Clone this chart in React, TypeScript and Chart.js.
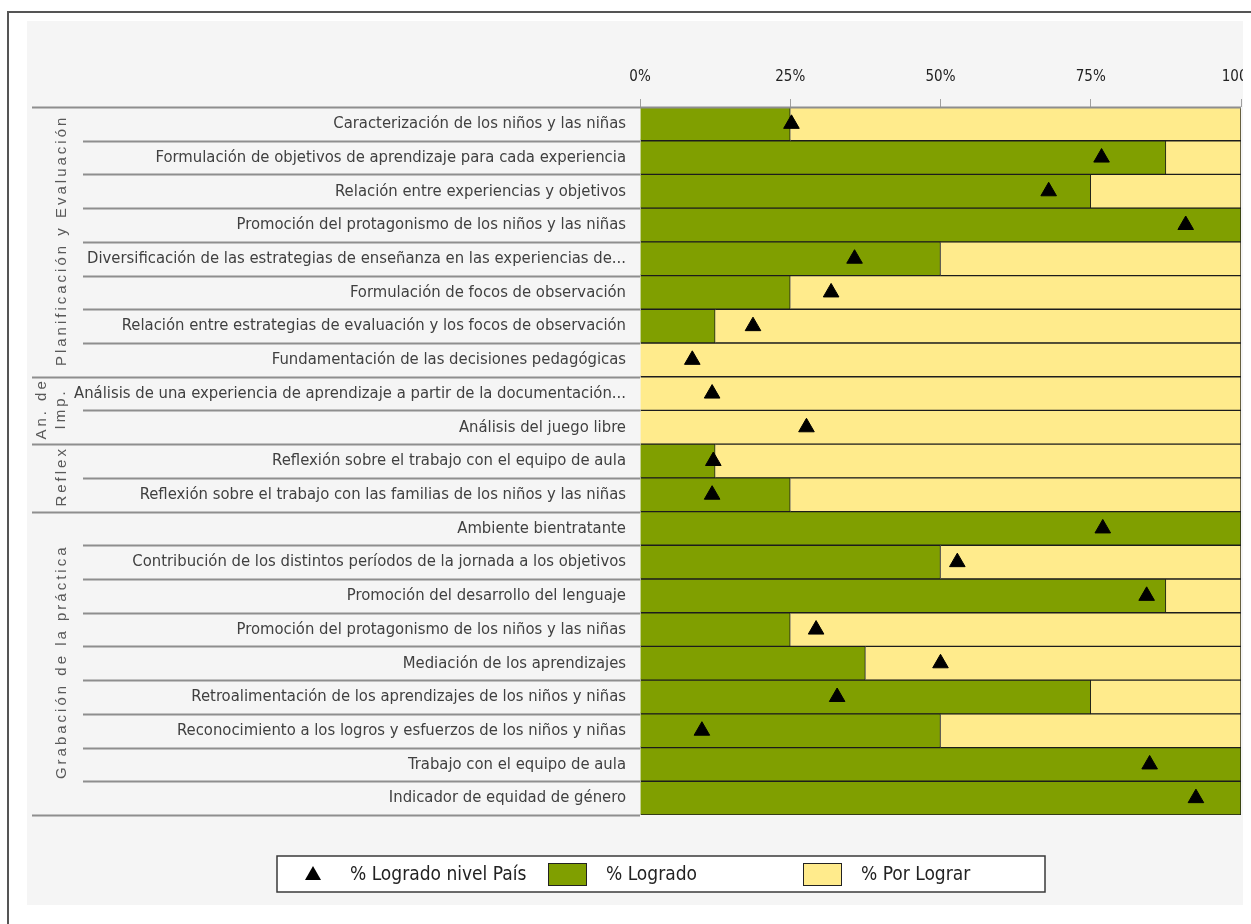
import React, { useEffect, useRef } from "react";
import { Chart, registerables } from "chart.js";

Chart.register(...registerables);

const categories = [
  "Caracterización de los niños y las niñas",
  "Formulación de objetivos de aprendizaje para cada experiencia",
  "Relación entre experiencias y objetivos",
  "Promoción del protagonismo de los niños y las niñas",
  "Diversificación de las estrategias de enseñanza en las experiencias de...",
  "Formulación de focos de observación",
  "Relación entre estrategias de evaluación y los focos de observación",
  "Fundamentación de las decisiones pedagógicas",
  "Análisis de una experiencia de aprendizaje a partir de la documentación...",
  "Análisis del juego libre",
  "Reflexión sobre el trabajo con el equipo de aula",
  "Reflexión sobre el trabajo con las familias de los niños y las niñas",
  "Ambiente bientratante",
  "Contribución de los distintos períodos de la jornada a los objetivos",
  "Promoción del desarrollo del lenguaje",
  "Promoción del protagonismo de los niños y las niñas",
  "Mediación de los aprendizajes",
  "Retroalimentación de los aprendizajes de los niños y niñas",
  "Reconocimiento a los logros y esfuerzos de los niños y niñas",
  "Trabajo con el equipo de aula",
  "Indicador de equidad de género",
];

const groupLabels: string[][] = [
  ["Planificación y Evaluación"],
  ["An. de", "Imp."],
  ["Reflex"],
  ["Grabación de la práctica"],
];
const groupSizes = [8, 2, 2, 9];

const logrado = [25, 87.5, 75, 100, 50, 25, 12.5, 0, 0, 0, 12.5, 25, 100, 50, 87.5, 25, 37.5, 75, 50, 100, 100];
const porLograr = [75, 12.5, 25, 0, 50, 75, 87.5, 100, 100, 100, 87.5, 75, 0, 50, 12.5, 75, 62.5, 25, 50, 0, 0];
const logradoPais = [25.2, 76.8, 68, 90.8, 35.7, 31.8, 18.8, 8.7, 12, 27.7, 12.2, 12, 77, 52.8, 84.3, 29.3, 50, 32.8, 10.3, 84.8, 92.5];

const xTicks = [0, 25, 50, 75, 100];

const seriesNames = ["% Logrado nivel País", "% Logrado", "% Por Lograr"];

const GREEN = "#809f00";
const YELLOW = "#ffeb8c";
const NARROW = '"Liberation Sans Narrow", "Arial Narrow", "DejaVu Sans Condensed", sans-serif';

const decorPlugin = {
  id: "decor",
  afterDraw(chart: any) {
    const ctx = chart.ctx as CanvasRenderingContext2D;
    const area = chart.chartArea;
    const y = chart.scales.y;
    const n = categories.length;
    const boundary = (i: number) => {
      if (i <= 0) return area.top;
      if (i >= n) return area.bottom;
      return (y.getPixelForValue(i - 1) + y.getPixelForValue(i)) / 2;
    };
    const groupStarts: number[] = [0];
    groupSizes.forEach((s, k) => groupStarts.push(groupStarts[k] + s));

    ctx.save();
    ctx.strokeStyle = "#8e8e8e";
    ctx.lineWidth = 2;
    for (let i = 0; i <= n; i++) {
      const yy = Math.round(boundary(i)) + 0.5;
      const isGroup = groupStarts.includes(i);
      ctx.beginPath();
      ctx.moveTo(isGroup ? 5 : 56, yy);
      ctx.lineTo(i === 0 ? area.right : area.left, yy);
      ctx.stroke();
    }

    // group labels
    ctx.fillStyle = "#595959";
    ctx.font = '15px "Liberation Sans", Arial, sans-serif';
    (ctx as any).letterSpacing = "3px";
    ctx.textAlign = "center";
    ctx.textBaseline = "middle";
    groupLabels.forEach((lines, k) => {
      const cy = (boundary(groupStarts[k]) + boundary(groupStarts[k + 1])) / 2;
      const xs = lines.length === 1 ? [35] : [15, 34];
      lines.forEach((line, j) => {
        ctx.save();
        ctx.translate(xs[j], cy);
        ctx.rotate(-Math.PI / 2);
        ctx.fillText(line, 1.5, 0);
        ctx.restore();
      });
    });
    (ctx as any).letterSpacing = "0px";

    // legend
    const lx = 250, ly = 835, lw = 768, lh = 36;
    ctx.fillStyle = "#ffffff";
    ctx.fillRect(lx, ly, lw, lh);
    ctx.strokeStyle = "#3a3a3a";
    ctx.lineWidth = 1.5;
    ctx.strokeRect(lx, ly, lw, lh);
    const cy = ly + lh / 2;
    ctx.fillStyle = "#000";
    ctx.beginPath();
    ctx.moveTo(286, cy - 8);
    ctx.lineTo(294, cy + 6);
    ctx.lineTo(278, cy + 6);
    ctx.closePath();
    ctx.fill();
    ctx.font = "19px " + NARROW;
    ctx.textAlign = "left";
    ctx.textBaseline = "middle";
    ctx.fillStyle = "#222";
    ctx.fillText(seriesNames[0], 323, cy + 1);
    ctx.fillStyle = GREEN;
    ctx.fillRect(521, cy - 11, 39, 23);
    ctx.strokeStyle = "#222";
    ctx.lineWidth = 1;
    ctx.strokeRect(521.5, cy - 10.5, 38, 22);
    ctx.fillStyle = "#222";
    ctx.fillText(seriesNames[1], 579, cy + 1);
    ctx.fillStyle = YELLOW;
    ctx.fillRect(776, cy - 11, 39, 23);
    ctx.strokeRect(776.5, cy - 10.5, 38, 22);
    ctx.fillStyle = "#222";
    ctx.fillText(seriesNames[2], 834, cy + 1);
    ctx.restore();
  },
};

export default function App() {
  const ref = useRef<HTMLCanvasElement>(null);
  useEffect(() => {
    if (!ref.current) return;
    const chart = new Chart(ref.current, {
      type: "bar",
      data: {
        labels: categories,
        datasets: [
          {
            type: "line",
            label: seriesNames[0],
            data: logradoPais,
            indexAxis: "y",
            showLine: false,
            pointStyle: "triangle",
            pointRadius: 9,
            pointHoverRadius: 9,
            backgroundColor: "#000",
            borderColor: "#000",
            borderWidth: 1,
            stack: "marker",
            order: 0,
            clip: false,
          } as any,
          {
            label: seriesNames[1],
            data: logrado,
            backgroundColor: GREEN,
            borderColor: "#1c1c1c",
            borderWidth: 1,
            barPercentage: 1,
            categoryPercentage: 1,
            stack: "bars",
            order: 1,
          },
          {
            label: seriesNames[2],
            data: porLograr,
            backgroundColor: YELLOW,
            borderColor: "#1c1c1c",
            borderWidth: 1,
            barPercentage: 1,
            categoryPercentage: 1,
            stack: "bars",
            order: 1,
          },
        ],
      },
      options: {
        indexAxis: "y",
        animation: false,
        responsive: false,
        maintainAspectRatio: false,
        layout: { autoPadding: false, padding: { left: 0, right: 2, top: 0, bottom: 90 } },
        plugins: {
          legend: { display: false },
          tooltip: { enabled: false },
        },
        scales: {
          x: {
            position: "top",
            stacked: true,
            min: 0,
            max: 100,
            afterBuildTicks(scale: any) {
              scale.ticks = xTicks.map((v) => ({ value: v }));
            },
            afterFit(scale: any) {
              scale.height = 86;
              scale.paddingLeft = 0;
              scale.paddingRight = 0;
            },
            ticks: {
              callback: (v: any) => v + "%",
              color: "#222",
              font: { family: NARROW, size: 15 },
              padding: 13,
              maxRotation: 0,
            },
            grid: {
              drawOnChartArea: false,
              drawTicks: true,
              tickLength: 8,
              color: "#a0a0a0",
            },
            border: { display: false },
          },
          y: {
            stacked: true,
            afterFit(scale: any) {
              scale.width = 613;
            },
            ticks: {
              autoSkip: false,
              color: "#404040",
              font: { family: NARROW, size: 16.5 },
              padding: 14,
            },
            grid: { display: false, drawTicks: false },
            border: { display: false },
          },
        },
      } as any,
      plugins: [decorPlugin],
    });
    return () => chart.destroy();
  }, []);

  return (
    <div
      style={{
        position: "absolute",
        left: 7,
        top: 11,
        right: 0,
        bottom: 0,
        borderTop: "2px solid #555",
        borderLeft: "2px solid #555",
        background: "#fff",
        overflow: "hidden",
      }}
    >
      <div
        style={{
          position: "absolute",
          left: 18,
          top: 8,
          width: 1216,
          height: 884,
          background: "#f5f5f5",
        }}
      >
        <canvas ref={ref} width={1216} height={884} style={{ display: "block", width: 1216, height: 884 }} />
      </div>
    </div>
  );
}
